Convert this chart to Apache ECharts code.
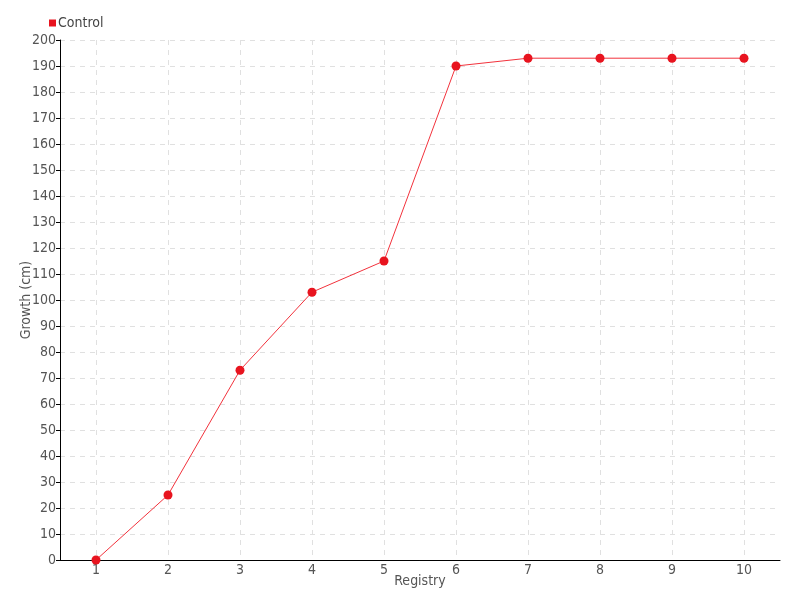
<!DOCTYPE html>
<html><head><meta charset="utf-8">
<script src="https://cdn.jsdelivr.net/npm/echarts@6/dist/echarts.min.js"></script>
<style>html,body{margin:0;padding:0;background:#fff}#c{width:800px;height:600px}</style>
</head><body><div id="c"></div>
<script>
const categories = ['1','2','3','4','5','6','7','8','9','10'];
const controlValues = [0, 25, 73, 103, 115, 190, 193, 193, 193, 193];
const seriesName = 'Control';
const FONT = '"Liberation Sans Narrow", "DejaVu Sans Condensed", sans-serif';
const chart = echarts.init(document.getElementById('c'), null, {renderer: 'canvas'});
chart.setOption({
  animation: false,
  textStyle: {fontFamily: FONT},
  legend: {
    left: 44, top: 11, itemWidth: 7, itemHeight: 7, itemGap: 4,
    icon: 'rect',
    textStyle: {fontFamily: FONT, fontSize: 14, color: '#444', padding: [0,0,0,-3]},
    data: [seriesName]
  },
  grid: {left: 60, right: 20, top: 40, bottom: 40, containLabel: false, outerBoundsMode: 'none'},
  xAxis: {
    type: 'category', data: categories, boundaryGap: true,
    name: 'Registry', nameLocation: 'middle', nameGap: 14, nameMoveOverlap: false,
    nameTextStyle: {fontFamily: FONT, fontSize: 14, color: '#555'},
    axisLine: {lineStyle: {color: '#000', width: 1}},
    axisTick: {alignWithLabel: true, length: 4, lineStyle: {color: '#000'}},
    axisLabel: {fontFamily: FONT, fontSize: 14, color: '#555', margin: 3},
    splitLine: {show: true, alignWithLabel: true, lineStyle: {type: [5,5], color: '#e0e0e0'}}
  },
  yAxis: {
    type: 'value', min: 0, max: 200, interval: 10,
    name: 'Growth (cm)', nameLocation: 'middle', nameGap: 27, nameMoveOverlap: false,
    nameTextStyle: {fontFamily: FONT, fontSize: 14, color: '#555'},
    axisLine: {show: true, lineStyle: {color: '#000', width: 1}},
    axisTick: {show: true, length: 4, lineStyle: {color: '#000'}},
    axisLabel: {fontFamily: FONT, fontSize: 14, color: '#555', margin: 4},
    splitLine: {show: true, lineStyle: {type: [5,5], color: '#e0e0e0'}}
  },
  series: [{
    name: seriesName, type: 'line', data: controlValues,
    symbol: 'circle', symbolSize: 9,
    itemStyle: {color: '#e8141f'},
    lineStyle: {color: '#f2323c', width: 1}
  }]
});
</script></body></html>
